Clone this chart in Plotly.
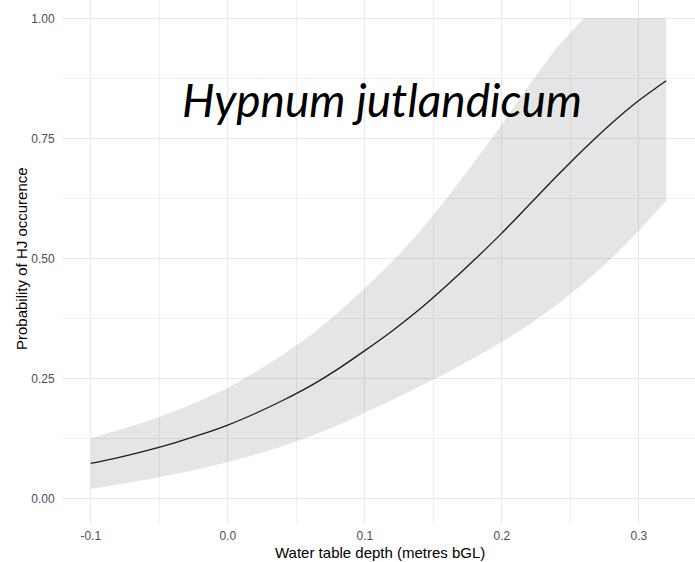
import plotly.graph_objects as go

# Water table depth (metres below ground level)
depth = [-0.10, -0.08, -0.06, -0.04, -0.02, 0.00, 0.02, 0.04, 0.06, 0.08, 0.10,
         0.12, 0.14, 0.16, 0.18, 0.20, 0.22, 0.24, 0.26, 0.28, 0.30, 0.32]

# Fitted probability of occurrence
prob_fit = [0.0730, 0.0853, 0.0993, 0.1150, 0.1329, 0.1530, 0.1770, 0.2040, 0.2340, 0.2690, 0.3080,
            0.3490, 0.3940, 0.4440, 0.4970, 0.5526, 0.6117, 0.6709, 0.7279, 0.7811, 0.8288, 0.8700]

# Confidence band limits
prob_lower = [0.020, 0.029, 0.039, 0.050, 0.062, 0.076, 0.091, 0.109, 0.129, 0.152, 0.178,
              0.205, 0.233, 0.262, 0.293, 0.326, 0.362, 0.403, 0.449, 0.500, 0.557, 0.620]
prob_upper = [0.126, 0.142, 0.160, 0.180, 0.204, 0.230, 0.263, 0.299, 0.339, 0.386, 0.438,
              0.493, 0.555, 0.626, 0.701, 0.779, 0.861, 0.939, 1.000, 1.000, 1.000, 1.000]

x_ticks = [-0.1, 0.0, 0.1, 0.2, 0.3]
x_tick_text = ["-0.1", "0.0", "0.1", "0.2", "0.3"]
y_ticks = [0.0, 0.25, 0.5, 0.75, 1.0]
y_tick_text = ["0.00", "0.25", "0.50", "0.75", "1.00"]

species = "Hypnum jutlandicum"
x_title = "Water table depth (metres bGL)"
y_title = "Probability of HJ occurence"

W, H = 695, 562
ML, MR, MT, MB = 62, 0, 0, 38
plot_w = W - ML - MR
plot_h = H - MT - MB

fig = go.Figure()

fig.add_trace(go.Scatter(x=depth, y=prob_lower, mode="lines", line=dict(width=0),
                         hoverinfo="skip", showlegend=False))
fig.add_trace(go.Scatter(x=depth, y=prob_upper, mode="lines", line=dict(width=0),
                         fill="tonexty", fillcolor="rgba(0,0,0,0.10)",
                         hoverinfo="skip", showlegend=False))
fig.add_trace(go.Scatter(x=depth, y=prob_fit, mode="lines",
                         line=dict(color="#1a1a1a", width=1.3, shape="spline", smoothing=0.8),
                         showlegend=False))

grid_major = "#e9e9e9"
grid_minor = "#efefef"
tick_font = dict(family="Liberation Sans, Arial, sans-serif", size=12, color="#4d4d4d")

fig.update_xaxes(range=[-0.121, 0.341], tickvals=x_ticks, ticktext=x_tick_text,
                 showgrid=True, gridcolor=grid_major, gridwidth=1, zeroline=False,
                 showline=False, ticks="outside", ticklen=1, tickcolor="rgba(0,0,0,0)",
                 tickfont=tick_font,
                 minor=dict(tickvals=[-0.05, 0.05, 0.15, 0.25], showgrid=True,
                            gridcolor=grid_minor, gridwidth=1))
fig.update_yaxes(range=[-0.0531, 1.0381], tickvals=y_ticks, ticktext=y_tick_text,
                 showgrid=True, gridcolor=grid_major, gridwidth=1, zeroline=False,
                 showline=False, ticks="outside", ticklen=4, tickcolor="rgba(0,0,0,0)",
                 tickfont=tick_font,
                 minor=dict(tickvals=[0.125, 0.375, 0.625, 0.875], showgrid=True,
                            gridcolor=grid_minor, gridwidth=1))

title_font = dict(family="Liberation Sans, Arial, sans-serif", size=15, color="#000000")

fig.add_annotation(text=x_title, xref="paper", yref="paper",
                   x=(380 - ML) / plot_w, y=-(552 - (MT + plot_h)) / plot_h,
                   xanchor="center", yanchor="middle", showarrow=False, font=title_font)
fig.add_annotation(text=y_title, xref="paper", yref="paper",
                   x=(21 - ML) / plot_w, y=(MT + plot_h - 259) / plot_h,
                   xanchor="center", yanchor="middle", textangle=-90,
                   showarrow=False, font=title_font)
fig.add_annotation(text=species, xref="paper", yref="paper",
                   x=(382 - ML) / plot_w, y=(MT + plot_h - 100) / plot_h,
                   xanchor="center", yanchor="middle", showarrow=False,
                   font=dict(family="Lato, Carlito, sans-serif", size=46, color="#000000",
                             style="italic"))

fig.update_layout(width=W, height=H, margin=dict(l=ML, r=MR, t=MT, b=MB),
                  paper_bgcolor="white", plot_bgcolor="white")

fig.write_html("out.html")
